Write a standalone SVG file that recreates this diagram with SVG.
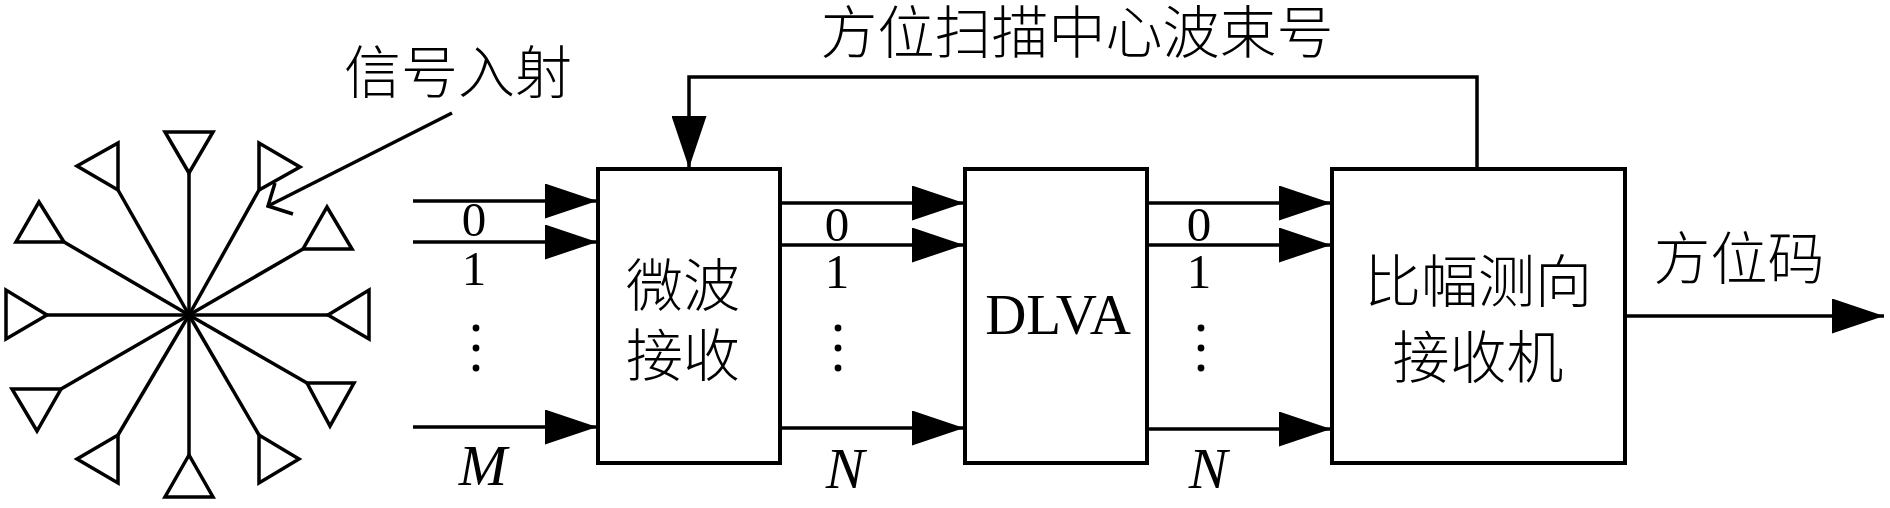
<svg xmlns="http://www.w3.org/2000/svg" width="1890" height="508" viewBox="0 0 1890 508">
<style>
.ln{stroke:#000;stroke-width:3.5;fill:none;stroke-linecap:butt}
.box{stroke:#000;stroke-width:4;fill:#fff}
.tri{stroke:#000;stroke-width:3.5;fill:#fff;stroke-linejoin:miter}
.cjk{font-family:"Noto Sans CJK SC","Noto Sans CJK JP",sans-serif;font-size:57px;font-weight:300;fill:#000;text-anchor:middle}
.num{font-family:"Liberation Serif","Times New Roman",serif;font-size:49px;fill:#000;text-anchor:middle}
.var{font-family:"Liberation Serif","Times New Roman",serif;font-size:58px;font-style:italic;fill:#000;text-anchor:middle}
.lat{font-family:"Liberation Serif","Times New Roman",serif;font-size:57px;fill:#000;text-anchor:middle}
</style>
<defs>
<marker id="ah" markerUnits="userSpaceOnUse" markerWidth="52" markerHeight="35" refX="52" refY="17.5" orient="auto" viewBox="0 0 52 35">
<path d="M0,0 L52,17.5 L0,35 Z" fill="#000"/>
</marker>
</defs>
<rect width="1890" height="508" fill="#fff"/>

<g id="antenna-array">
<g class="ln">
<line x1="189" y1="315" x2="189" y2="173"/>
<line x1="189" y1="315" x2="189" y2="455"/>
<line x1="189" y1="315" x2="47" y2="315"/>
<line x1="189" y1="315" x2="328" y2="315"/>
<line x1="189" y1="315" x2="64" y2="242"/>
<line x1="189" y1="315" x2="61" y2="389"/>
<line x1="189" y1="315" x2="303" y2="249"/>
<line x1="189" y1="315" x2="307" y2="383"/>
<line x1="189" y1="315" x2="118" y2="190"/>
<line x1="189" y1="315" x2="259" y2="190"/>
<line x1="189" y1="315" x2="118" y2="435"/>
<line x1="189" y1="315" x2="259" y2="435"/>
</g>
<polygon class="tri" points="189,173 165,132 213,132"/>
<polygon class="tri" points="189,455 165,497 213,497"/>
<polygon class="tri" points="47,315 6,290 6,339"/>
<polygon class="tri" points="328,315 369,290 369,339"/>
<polygon class="tri" points="16,242 64,242 39,202"/>
<polygon class="tri" points="12,389 61,389 37,431"/>
<polygon class="tri" points="303,249 352,249 327,207"/>
<polygon class="tri" points="307,383 354,383 330,426"/>
<polygon class="tri" points="118,190 118,143 77,166"/>
<polygon class="tri" points="259,190 259,143 300,167"/>
<polygon class="tri" points="118,435 118,483 77,459"/>
<polygon class="tri" points="259,435 259,483 299,459"/>
</g>

<g id="incident">
<polyline class="ln" points="452,113 268,206"/>
<polyline class="ln" points="275,183 268,206 293,214"/>
<text class="cjk" x="458" y="93">信号入射</text>
</g>

<g id="microwave-receiver">
<rect class="box" x="598" y="169" width="182" height="294"/>
<text class="cjk" x="683" y="306">微波</text>
<text class="cjk" x="683" y="376">接收</text>
</g>

<g id="dlva">
<rect class="box" x="965" y="169" width="182" height="294"/>
<text class="lat" x="1058" y="334">DLVA</text>
</g>

<g id="amplitude-df-receiver">
<rect class="box" x="1332" y="169" width="293" height="294"/>
<text class="cjk" x="1478" y="302">比幅测向</text>
<text class="cjk" x="1478" y="378">接收机</text>
</g>

<g id="connectors">
<g class="ln" marker-end="url(#ah)">
<line x1="413" y1="201" x2="597" y2="201"/>
<line x1="413" y1="242" x2="597" y2="242"/>
<line x1="413" y1="427" x2="597" y2="427"/>
<line x1="780" y1="203" x2="964" y2="203"/>
<line x1="780" y1="245" x2="964" y2="245"/>
<line x1="780" y1="428" x2="964" y2="428"/>
<line x1="1147" y1="203" x2="1331" y2="203"/>
<line x1="1147" y1="245" x2="1331" y2="245"/>
<line x1="1147" y1="429" x2="1331" y2="429"/>
<line x1="1625" y1="316" x2="1884" y2="316"/>
<polyline points="1477,169 1477,77 689,77 689,168"/>
</g>
</g>

<g id="labels">
<text class="num" x="474" y="236">0</text>
<text class="num" x="474" y="285">1</text>
<circle cx="476" cy="328" r="3.4"/><circle cx="476" cy="348" r="3.4"/><circle cx="476" cy="368" r="3.4"/>
<text class="var" x="483" y="485">M</text>

<text class="num" x="837" y="241">0</text>
<text class="num" x="837" y="288">1</text>
<circle cx="838" cy="328" r="3.4"/><circle cx="838" cy="348" r="3.4"/><circle cx="838" cy="368" r="3.4"/>
<text class="var" x="845" y="488">N</text>

<text class="num" x="1199" y="241">0</text>
<text class="num" x="1199" y="288">1</text>
<circle cx="1201" cy="328" r="3.4"/><circle cx="1201" cy="348" r="3.4"/><circle cx="1201" cy="368" r="3.4"/>
<text class="var" x="1208" y="488">N</text>

<text class="cjk" x="1077" y="53">方位扫描中心波束号</text>
<text class="cjk" x="1739" y="279">方位码</text>
</g>
</svg>
